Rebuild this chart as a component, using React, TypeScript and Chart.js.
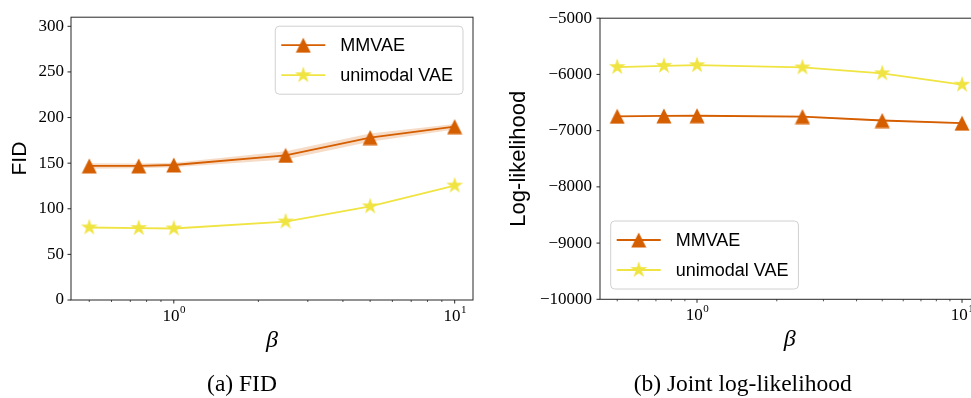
import React, { useEffect, useRef } from 'react';
import { Chart, registerables } from 'chart.js';

Chart.register(...registerables);

// ---------------- data ----------------
const betas = [0.5, 0.75, 1, 2.5, 5, 10];
const seriesLabels = ['MMVAE', 'unimodal VAE'];

const mmvaeFid = [147, 147, 148, 158.5, 178, 190];
const mmvaeFidStd = [3, 2.5, 2.5, 4.5, 4.5, 3];
const unimodalFid = [79.5, 78.8, 78.4, 86, 102.6, 125.4];

const mmvaeLL = [-6745, -6738, -6735, -6750, -6820, -6868];
const mmvaeLLStd = [12, 12, 12, 15, 15, 12];
const unimodalLL = [-5870, -5848, -5836, -5876, -5980, -6183];

const fidTicks = [0, 50, 100, 150, 200, 250, 300];
const llTicks = [-10000, -9000, -8000, -7000, -6000, -5000];
const xMajorTicks = [1, 10];
const xMinorTicks = [0.5, 0.6, 0.7, 0.8, 0.9, 2, 3, 4, 5, 6, 7, 8, 9];
const X_MIN = 0.4305;
const X_MAX = 11.62;

// ---------------- styles ----------------
const ORANGE = '#d55e00';
const YELLOW = '#f0e442';
const BAND = 'rgba(213, 94, 0, 0.22)';
const SERIF = '"Liberation Serif", "Times New Roman", serif';
const SANS = '"Liberation Sans", Arial, sans-serif';

function triangleMarker(color: string): HTMLCanvasElement {
  const s = 16;
  const c = document.createElement('canvas');
  c.width = s;
  c.height = s;
  const g = c.getContext('2d')!;
  g.fillStyle = color;
  g.beginPath();
  g.moveTo(s / 2, 0.5);
  g.lineTo(s - 0.5, s - 0.5);
  g.lineTo(0.5, s - 0.5);
  g.closePath();
  g.fill();
  return c;
}

function starMarker(color: string, R = 7): HTMLCanvasElement {
  const s = 20;
  const c = document.createElement('canvas');
  c.width = s;
  c.height = s;
  const g = c.getContext('2d')!;
  g.fillStyle = color;
  g.strokeStyle = color;
  g.lineWidth = 1.1;
  g.lineJoin = 'miter';
  g.translate(s / 2, s / 2);
  g.beginPath();
  for (let i = 0; i < 10; i++) {
    const a = -Math.PI / 2 + (i * Math.PI) / 5;
    const r = i % 2 === 0 ? R : R * 0.382;
    const px = Math.cos(a) * r;
    const py = Math.sin(a) * r;
    if (i === 0) g.moveTo(px, py);
    else g.lineTo(px, py);
  }
  g.closePath();
  g.fill();
  g.stroke();
  return c;
}

function pts(ys: number[]) {
  return betas.map((b, i) => ({ x: b, y: ys[i] }));
}

function fmt(v: number): string {
  return v < 0 ? '\u2212' + String(Math.abs(v)) : String(v);
}

type Panel = {
  mmvae: number[];
  mmvaeStd: number[];
  uni: number[];
  yMin: number;
  yMax: number;
  yTicks: number[];
  yTitle: string;
  yTitleSize: number;
  yTitlePad: number;
  yAxisWidth: number;
  yTickPad: number;
  padding: { left: number; top: number; right: number; bottom: number };
  legend: 'topRight' | 'bottomLeft';
};

function decorPlugin(spec: Panel) {
  return {
    id: 'decor',
    afterDraw(chart: any) {
      const { ctx, chartArea: a, scales } = chart;
      const xs = scales.x;
      const ys = scales.y;
      ctx.save();
      // spines
      ctx.strokeStyle = '#262626';
      ctx.lineWidth = 1;
      ctx.strokeRect(a.left, a.top, a.right - a.left, a.bottom - a.top);
      // ticks
      ctx.beginPath();
      for (const v of spec.yTicks) {
        const y = ys.getPixelForValue(v);
        ctx.moveTo(a.left - 3.5, y);
        ctx.lineTo(a.left, y);
      }
      for (const v of xMajorTicks) {
        const x = xs.getPixelForValue(v);
        ctx.moveTo(x, a.bottom);
        ctx.lineTo(x, a.bottom + 3.5);
      }
      ctx.stroke();
      ctx.beginPath();
      ctx.lineWidth = 0.8;
      for (const v of xMinorTicks) {
        const x = xs.getPixelForValue(v);
        ctx.moveTo(x, a.bottom);
        ctx.lineTo(x, a.bottom + 2);
      }
      ctx.stroke();
      // x tick labels 10^n
      ctx.fillStyle = '#000';
      ctx.textBaseline = 'alphabetic';
      ctx.textAlign = 'left';
      for (const v of xMajorTicks) {
        const x = xs.getPixelForValue(v);
        const exp = String(Math.round(Math.log10(v)));
        ctx.font = `17px ${SERIF}`;
        const wb = ctx.measureText('10').width;
        ctx.font = `11px ${SERIF}`;
        const we = ctx.measureText(exp).width;
        const x0 = x - (wb + we) / 2;
        ctx.font = `17px ${SERIF}`;
        ctx.fillText('10', x0, a.bottom + 20.5);
        ctx.font = `11px ${SERIF}`;
        ctx.fillText(exp, x0 + wb + 0.5, a.bottom + 12.5);
      }
      // legend
      const entries = chart.data.datasets.filter((d: any) => d.label);
      ctx.font = `18px ${SANS}`;
      const textW = Math.max(...entries.map((e: any) => ctx.measureText(e.label).width));
      const w = 6 + 44 + 15 + textW + 10;
      const h = 68;
      let bx: number;
      let by: number;
      if (spec.legend === 'topRight') {
        bx = a.right - 10 - w;
        by = a.top + 9;
      } else {
        bx = a.left + 10.7;
        by = a.bottom - 10.3 - h;
      }
      const r = 4;
      ctx.beginPath();
      ctx.moveTo(bx + r, by);
      ctx.lineTo(bx + w - r, by);
      ctx.arcTo(bx + w, by, bx + w, by + r, r);
      ctx.lineTo(bx + w, by + h - r);
      ctx.arcTo(bx + w, by + h, bx + w - r, by + h, r);
      ctx.lineTo(bx + r, by + h);
      ctx.arcTo(bx, by + h, bx, by + h - r, r);
      ctx.lineTo(bx, by + r);
      ctx.arcTo(bx, by, bx + r, by, r);
      ctx.closePath();
      ctx.fillStyle = 'rgba(255,255,255,0.8)';
      ctx.fill();
      ctx.strokeStyle = '#d0d0d0';
      ctx.lineWidth = 1;
      ctx.stroke();
      entries.forEach((e: any, i: number) => {
        const cy = by + 19 + i * 30;
        ctx.beginPath();
        ctx.strokeStyle = e.borderColor;
        ctx.lineWidth = e.borderWidth;
        ctx.moveTo(bx + 6, cy);
        ctx.lineTo(bx + 50, cy);
        ctx.stroke();
        const img = e.pointStyle as HTMLCanvasElement;
        ctx.drawImage(img, bx + 28 - img.width / 2, cy - img.height / 2);
        ctx.fillStyle = '#000';
        ctx.font = `18px ${SANS}`;
        ctx.textBaseline = 'middle';
        ctx.fillText(e.label, bx + 65, cy + 1);
      });
      ctx.restore();
    },
  };
}

function buildConfig(spec: Panel): any {
  const tri = triangleMarker(ORANGE);
  const star = starMarker(YELLOW);
  const upper = spec.mmvae.map((v, i) => v + spec.mmvaeStd[i]);
  const lower = spec.mmvae.map((v, i) => v - spec.mmvaeStd[i]);
  return {
    type: 'line',
    data: {
      datasets: [
        {
          label: seriesLabels[0],
          data: pts(spec.mmvae),
          borderColor: ORANGE,
          backgroundColor: ORANGE,
          borderWidth: 1.8,
          pointStyle: tri,
          pointRadius: 8,
          pointHoverRadius: 8,
          fill: false,
          tension: 0,
          order: 1,
        },
        {
          label: seriesLabels[1],
          data: pts(spec.uni),
          borderColor: YELLOW,
          backgroundColor: YELLOW,
          borderWidth: 1.8,
          pointStyle: star,
          pointRadius: 8,
          pointHoverRadius: 8,
          fill: false,
          tension: 0,
          order: 0,
        },
        {
          label: '',
          data: pts(upper),
          borderColor: 'rgba(0,0,0,0)',
          borderWidth: 1,
          pointRadius: 0,
          fill: '+1',
          backgroundColor: BAND,
          tension: 0,
          order: 2,
        },
        {
          label: '',
          data: pts(lower),
          borderColor: 'rgba(0,0,0,0)',
          borderWidth: 1,
          pointRadius: 0,
          fill: false,
          tension: 0,
          order: 3,
        },
      ],
    },
    options: {
      animation: false,
      responsive: false,
      events: [],
      layout: { padding: spec.padding },
      plugins: { legend: { display: false }, tooltip: { enabled: false } },
      scales: {
        x: {
          type: 'logarithmic',
          min: X_MIN,
          max: X_MAX,
          grid: { display: false, drawTicks: false },
          border: { display: false },
          ticks: { display: false },
          title: {
            display: true,
            text: 'β',
            color: '#000',
            font: { family: SERIF, size: 24, style: 'italic' },
            padding: 0,
          },
          afterFit: (s: any) => {
            s.height = 55;
          },
        },
        y: {
          type: 'linear',
          min: spec.yMin,
          max: spec.yMax,
          afterBuildTicks: (s: any) => {
            s.ticks = spec.yTicks.map((v) => ({ value: v }));
          },
          grid: { display: false, drawTicks: false },
          border: { display: false },
          ticks: {
            color: '#000',
            font: { family: SERIF, size: 17 },
            padding: spec.yTickPad,
            callback: (v: any) => fmt(Number(v)),
          },
          title: {
            display: true,
            text: spec.yTitle,
            color: '#000',
            font: { family: SANS, size: spec.yTitleSize },
            padding: { top: spec.yTitlePad, bottom: 0 },
          },
          afterFit: (s: any) => {
            s.width = spec.yAxisWidth;
          },
        },
      },
    },
    plugins: [decorPlugin(spec)],
  };
}

const leftPanel: Panel = {
  mmvae: mmvaeFid,
  mmvaeStd: mmvaeFidStd,
  uni: unimodalFid,
  yMin: 0,
  yMax: 310,
  yTicks: fidTicks,
  yTitle: 'FID',
  yTitleSize: 21,
  yTitlePad: 8,
  yAxisWidth: 71,
  yTickPad: 7,
  padding: { left: 0, top: 14, right: 17, bottom: 43 },
  legend: 'topRight',
};

const rightPanel: Panel = {
  mmvae: mmvaeLL,
  mmvaeStd: mmvaeLLStd,
  uni: unimodalLL,
  yMin: -10000,
  yMax: -5000,
  yTicks: llTicks,
  yTitle: 'Log-likelihood',
  yTitleSize: 22,
  yTitlePad: 15.5,
  yAxisWidth: 110,
  yTickPad: 8,
  padding: { left: 0, top: 12, right: 20.7, bottom: 43.7 },
  legend: 'bottomLeft',
};

export default function App() {
  const leftRef = useRef<HTMLCanvasElement>(null);
  const rightRef = useRef<HTMLCanvasElement>(null);

  useEffect(() => {
    const c1 = new Chart(leftRef.current!, buildConfig(leftPanel));
    const c2 = new Chart(rightRef.current!, buildConfig(rightPanel));
    return () => {
      c1.destroy();
      c2.destroy();
    };
  }, []);

  const caption: React.CSSProperties = {
    position: 'absolute',
    width: 400,
    textAlign: 'center',
    fontFamily: SERIF,
    fontSize: 23.5,
    lineHeight: '24px',
    color: '#000',
    whiteSpace: 'nowrap',
  };

  return (
    <div
      style={{
        position: 'absolute',
        left: 0,
        top: 0,
        width: 971,
        height: 398,
        overflow: 'hidden',
        background: '#fff',
      }}
    >
      <canvas
        ref={leftRef}
        width={490}
        height={398}
        style={{ position: 'absolute', left: 0, top: 0, display: 'block' }}
      />
      <canvas
        ref={rightRef}
        width={510}
        height={398}
        style={{ position: 'absolute', left: 490, top: 0, display: 'block' }}
      />
      <div style={{ ...caption, left: 242 - 200, top: 371 }}>(a) FID</div>
      <div style={{ ...caption, left: 742.7 - 200, top: 371 }}>(b) Joint log-likelihood</div>
    </div>
  );
}
